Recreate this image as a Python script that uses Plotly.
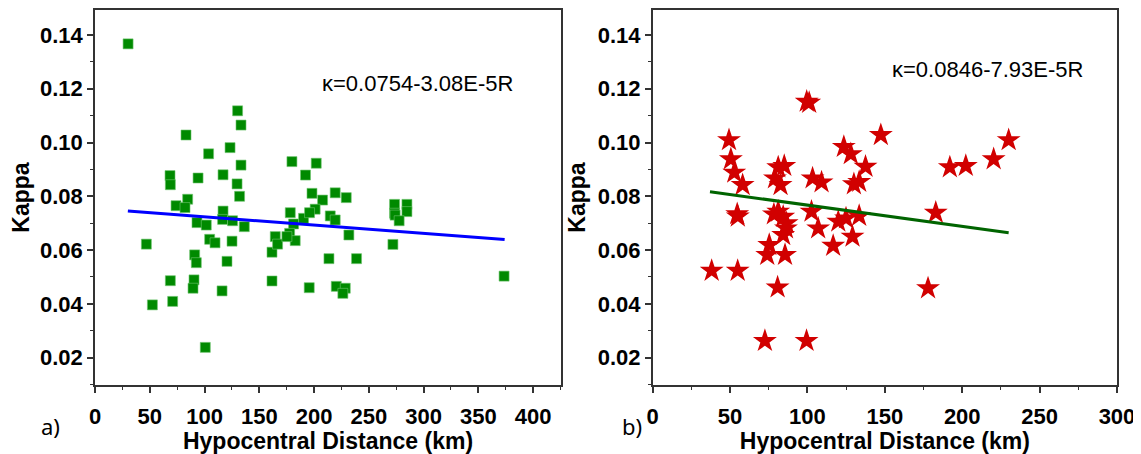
import plotly.graph_objects as go
from plotly.subplots import make_subplots

# panel a) - squares
dist_a = [30.2, 130.2, 133.3, 83.1, 123.3, 103.7, 133.3, 68.5, 68.8, 94.1, 116.9, 129.7,
          132.0, 74.0, 84.6, 82.2, 116.9, 93.1, 101.6, 116.5, 125.6, 136.3, 46.9, 104.7,
          109.6, 125.1, 161.6, 91.0, 92.5, 120.5, 68.8, 90.4, 89.5, 116.0, 161.6, 52.4,
          70.9, 100.7, 179.8, 202.0, 192.2, 198.1, 207.8, 219.3, 229.4, 178.3, 201.0, 273.5,
          284.8, 273.5, 284.8, 190.4, 195.9, 214.8, 219.3, 181.3, 177.7, 164.6, 166.7, 182.8,
          175.2, 231.8, 213.6, 238.8, 195.6, 220.3, 228.5, 226.3, 274.0, 277.7, 272.0, 373.5]
kappa_a = [0.1367, 0.1118, 0.1065, 0.1028, 0.0981, 0.0958, 0.0916, 0.0877, 0.0843, 0.0868, 0.0880, 0.0846,
           0.0800, 0.0765, 0.0789, 0.0758, 0.0745, 0.0702, 0.0693, 0.0714, 0.0709, 0.0687, 0.0622, 0.0640,
           0.0627, 0.0633, 0.0592, 0.0582, 0.0553, 0.0558, 0.0486, 0.0489, 0.0458, 0.0448, 0.0485, 0.0396,
           0.0409, 0.0238, 0.0929, 0.0923, 0.0879, 0.0811, 0.0786, 0.0813, 0.0795, 0.0739, 0.0752, 0.0770,
           0.0770, 0.0737, 0.0743, 0.0718, 0.0739, 0.0727, 0.0712, 0.0697, 0.0662, 0.0650, 0.0622, 0.0635,
           0.0650, 0.0656, 0.0568, 0.0568, 0.0460, 0.0465, 0.0458, 0.0439, 0.0730, 0.0709, 0.0621, 0.0503]
fit_a_x = [30, 374]
fit_a_y = [0.0745, 0.0639]

# panel b) - stars
dist_b = [101.1, 99.5, 49.3, 50.5, 52.7, 58.1, 81.1, 85.0, 79.0, 82.6, 103.3, 54.6,
          55.0, 78.3, 81.1, 84.3, 86.5, 86.1, 84.3, 102.6, 106.9, 75.3, 74.0, 85.5,
          38.1, 54.9, 80.7, 72.5, 99.4, 147.4, 123.5, 128.0, 137.5, 109.1, 130.0, 133.4,
          192.0, 202.3, 220.3, 230.0, 119.9, 124.9, 133.4, 116.6, 129.1, 182.9, 177.9]
kappa_b = [0.1148, 0.1152, 0.1009, 0.0938, 0.0888, 0.0842, 0.0908, 0.0913, 0.0867, 0.0842, 0.0867, 0.0734,
           0.0725, 0.0733, 0.0743, 0.0724, 0.0700, 0.0681, 0.0656, 0.0743, 0.0681, 0.0619, 0.0582, 0.0582,
           0.0523, 0.0523, 0.0461, 0.0262, 0.0262, 0.1028, 0.0984, 0.0957, 0.0910, 0.0852, 0.0845, 0.0854,
           0.0908, 0.0913, 0.0938, 0.1009, 0.0706, 0.0718, 0.0727, 0.0616, 0.0650, 0.0739, 0.0458]
fit_b_x = [37, 230]
fit_b_y = [0.0817, 0.0664]

y_ticks = [0.02, 0.04, 0.06, 0.08, 0.10, 0.12, 0.14]
y_labels = ["0.02", "0.04", "0.06", "0.08", "0.10", "0.12", "0.14"]

FONT = "Liberation Sans, Arial, sans-serif"

fig = make_subplots(rows=1, cols=2)

fig.add_trace(go.Scatter(x=dist_a, y=kappa_a, mode="markers",
                         marker=dict(symbol="square", size=10, color="#008a00",
                                     line=dict(width=0.6, color="#6fc46f"))), row=1, col=1)
fig.add_trace(go.Scatter(x=fit_a_x, y=fit_a_y, mode="lines",
                         line=dict(color="#0000ff", width=3)), row=1, col=1)
fig.add_trace(go.Scatter(x=dist_b, y=kappa_b, mode="markers",
                         marker=dict(symbol="star", size=18, color="#d10000", line=dict(width=0))),
              row=1, col=2)
fig.add_trace(go.Scatter(x=fit_b_x, y=fit_b_y, mode="lines",
                         line=dict(color="#006400", width=3)), row=1, col=2)

axis_style = dict(showline=True, linecolor="#333333", linewidth=1.5, mirror=True,
                  ticks="outside", ticklen=6, tickwidth=1.5, tickcolor="#333333",
                  showgrid=False, zeroline=False, automargin=False,
                  tickfont=dict(family=FONT, size=22, color="black", weight="bold"))

fig.update_xaxes(**axis_style, ticklabelstandoff=5,
                 title=dict(text="Hypocentral Distance (km)", standoff=12,
                            font=dict(family=FONT, size=23, color="black", weight="bold")))
fig.update_yaxes(**axis_style, range=[0.0098, 0.1493], tickvals=y_ticks, ticktext=y_labels,
                 minor=dict(ticks="outside", ticklen=3, dtick=0.01, tickcolor="#333333", tickwidth=1.2),
                 title=dict(text="Kappa", standoff=6,
                            font=dict(family=FONT, size=23, color="black", weight="bold")))

fig.update_xaxes(range=[0, 425.5], dtick=50, domain=[0, 0.456],
                 minor=dict(ticks="outside", ticklen=3, dtick=25, tickcolor="#333333", tickwidth=1.2),
                 row=1, col=1)
fig.update_xaxes(range=[0, 300], dtick=50, domain=[0.5457, 1],
                 minor=dict(ticks="outside", ticklen=3, dtick=25, tickcolor="#333333", tickwidth=1.2),
                 row=1, col=2)

fig.add_annotation(x=294, y=0.1221, xref="x", yref="y", text="\u03ba=0.0754-3.08E-5R",
                   showarrow=False, font=dict(family=FONT, size=22, color="black"))
fig.add_annotation(x=216.5, y=0.127, xref="x2", yref="y2", text="\u03ba=0.0846-7.93E-5R",
                   showarrow=False, font=dict(family=FONT, size=22, color="black"))
fig.add_annotation(x=-0.0548, y=-0.1547, xref="paper", yref="paper", text="a)",
                   showarrow=False, font=dict(family="Noto Sans, sans-serif", size=22, color="black"))
fig.add_annotation(x=0.5254, y=-0.1547, xref="paper", yref="paper", text="b)",
                   showarrow=False, font=dict(family="Noto Sans, sans-serif", size=22, color="black"))

# page body has an 8px margin, so the figure is 8px smaller than the window
fig.update_layout(width=1133, height=446, showlegend=False,
                  margin=dict(l=87, r=24, t=2, b=69),
                  paper_bgcolor="white", plot_bgcolor="white")

fig.write_html("out.html")
